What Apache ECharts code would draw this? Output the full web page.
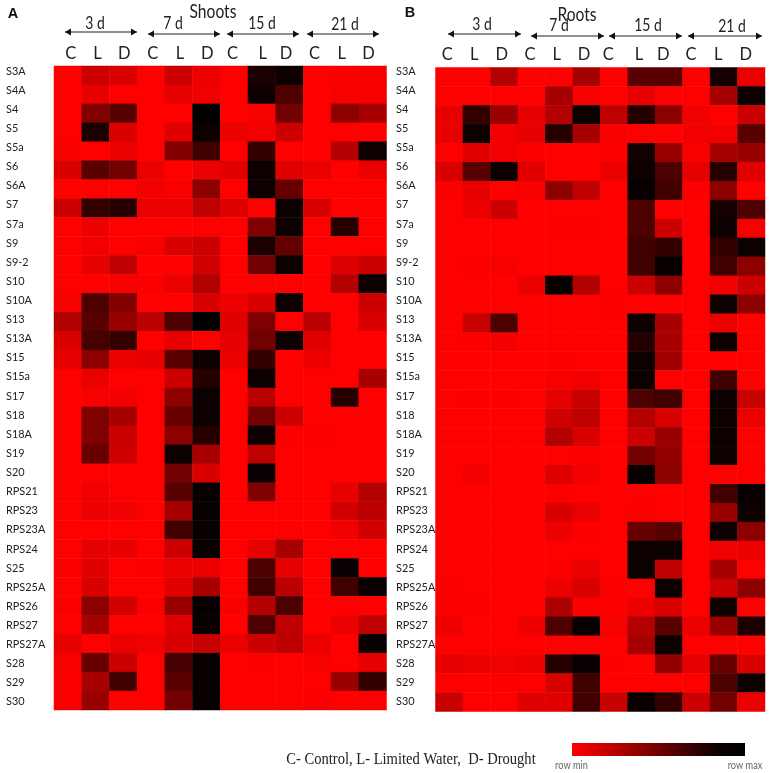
<!DOCTYPE html>
<html>
<head>
<meta charset="utf-8">
<style>html,body{margin:0;padding:0;background:#fff}#chart{width:773px;height:773px}</style>
<script src="https://cdn.jsdelivr.net/npm/echarts@6/dist/echarts.min.js"></script>
</head>
<body>
<div id="chart"></div>
<script>
const genes = ['S3A','S4A','S4','S5','S5a','S6','S6A','S7','S7a','S9','S9-2','S10','S10A','S13','S13A','S15','S15a','S17','S18','S18A','S19','S20','RPS21','RPS23','RPS23A','RPS24','S25','RPS25A','RPS26','RPS27','RPS27A','S28','S29','S30'];
const treatments = ['C','L','D','C','L','D','C','L','D','C','L','D'];
const days = ['3 d','7 d','15 d','21 d'];

// row-scaled expression, 0 = row min (red), 1 = row max (black)
const shoots = [
[0,.2,.15,0,.2,.07,0,.9,.95,0,.02,.03],
[0,.1,0,0,.1,.06,0,.95,.7,0,.03,.03],
[0,.5,.65,0,0,1,0,.03,.55,0,.45,.35],
[0,.9,.15,0,.12,.95,.08,.05,.2,0,0,0],
[.03,0,.08,0,.5,.75,0,.8,0,0,.3,.95],
[.15,.65,.55,.08,0,.07,.12,.95,.12,.08,0,.08],
[0,0,0,.05,.03,.45,0,.95,.6,0,0,0],
[.2,.8,.85,.08,.08,.25,.12,0,.95,.15,0,0],
[0,.07,0,0,0,0,0,.5,.95,0,.85,0],
[0,.05,0,.03,.15,.2,0,.9,.6,0,0,0],
[0,.1,.25,0,0,.18,0,.55,.95,0,.13,.2],
[0,0,.03,.02,.08,.3,0,0,0,0,.3,.95],
[.03,.7,.5,0,0,.15,.07,.15,.95,0,0,.2],
[.3,.65,.4,.27,.7,1,.12,.5,0,.27,0,.15],
[.15,.72,.8,0,.1,0,.1,.55,.95,.12,0,0],
[.1,.45,.08,.1,.65,.95,.08,.8,0,.07,0,0],
[0,.08,0,0,.2,.85,0,.95,0,0,0,.35],
[0,.03,.05,0,.45,.95,0,.27,0,0,.85,0],
[0,.5,.35,0,.6,.95,0,.55,.2,0,0,0],
[0,.5,.2,0,.45,.85,0,.95,.02,.02,0,0],
[0,.6,.2,0,.95,.35,0,.25,0,0,0,0],
[0,0,0,0,.55,.15,0,.97,0,0,0,0],
[0,.06,0,0,.65,.97,0,.5,0,0,.1,.3],
[0,.07,.06,0,.35,.97,0,0,0,0,.18,.27],
[0,0,0,0,.75,.97,0,0,0,0,.05,.18],
[0,.1,.1,0,.2,.97,0,.1,.35,0,0,0],
[.02,.12,0,.02,.08,.07,0,.7,.1,0,.97,0],
[0,.15,0,0,.12,.35,0,.75,.27,0,.75,.97],
[.02,.45,.17,.02,.4,.97,.03,.3,.7,0,0,0],
[0,.35,0,0,.13,.97,0,.7,.25,0,.08,.25],
[.1,0,.08,.06,.15,.22,.08,.2,.27,.08,0,.97],
[.03,.6,.2,0,.72,.97,0,.02,0,.03,0,.1],
[.02,.35,.75,0,.65,.97,0,0,0,0,.4,.8],
[.02,.4,0,0,.55,.97,0,0,0,.02,0,0]
];
const roots = [
[0,0,.3,0,0,.35,0,.65,.65,0,.92,.08],
[0,0,0,0,.35,.03,0,.1,0,0,.35,.95],
[.1,.8,.4,.1,.3,.95,.25,.85,.45,.06,0,.2],
[.1,.95,.05,.1,.85,.35,.03,0,0,.05,.05,.65],
[0,.12,.05,.02,0,0,.02,.92,.4,.03,.35,.4],
[.15,.65,.95,.12,0,0,.08,.95,.7,.1,.85,.12],
[.02,.1,0,.03,.45,.25,0,.97,.75,.02,.45,0],
[0,.08,.2,0,0,0,0,.7,0,0,.92,.7],
[0,0,0,0,.01,.01,0,.7,.2,0,.95,.03],
[0,0,0,0,0,0,0,.75,.8,0,.8,.95],
[0,.01,.03,0,0,0,0,.75,.97,0,.75,.45],
[0,0,0,.08,.97,.3,0,.2,.45,0,.05,.2],
[0,0,0,0,0,0,.01,0,0,0,.95,.45],
[0,.22,.7,0,0,0,0,.95,.35,0,.08,0],
[0,.01,.04,0,0,0,0,.85,.35,0,.95,0],
[0,0,0,0,.01,0,0,.95,.37,0,0,0],
[0,0,0,0,.03,.05,0,.95,0,0,.75,0],
[0,.01,.01,0,.1,.22,0,.7,.75,0,.95,.22],
[0,0,0,0,.18,.25,0,.3,.15,0,.95,.08],
[0,0,0,0,.3,.15,0,.2,.4,0,.95,0],
[0,0,0,0,0,.02,0,.55,.42,0,.95,0],
[0,.05,0,0,.13,.04,0,.97,.45,0,0,0],
[0,0,0,0,.01,0,0,0,0,0,.75,.97],
[0,0,0,0,.15,.08,0,.01,0,0,.4,.95],
[0,0,0,0,.07,.01,0,.6,.65,0,.95,.45],
[0,0,0,0,0,0,0,.95,.95,0,.06,.07],
[0,0,0,0,.01,.08,0,.95,.25,0,.35,0],
[.01,0,0,0,.07,.15,.02,0,.95,0,.2,.45],
[.01,.01,0,0,.32,.01,.01,.08,.15,0,.95,0],
[.07,0,0,.07,.7,.97,.03,.3,.65,.08,.4,.9],
[0,0,0,0,0,0,0,.35,.95,0,0,0],
[.1,.08,.06,.08,.85,.97,.02,0,.42,.1,.6,.15],
[0,0,.01,0,.15,.75,0,0,0,0,.7,.95],
[.22,0,0,.12,.12,.75,.22,.97,.8,.2,.55,.07]
];

const FONT = 'Lato';
const toCells = rows => rows.flatMap((row, r) => row.map((v, c) => [c, r, v]));

// horizontal nudges of the C/L/D header labels away from the cell centres
const headerNudgeA = [2.8, 1.8, 1.1, 1.8, 1.4, 1, -1.7, 1, -3.4, -2.7, -3.1, -4.2];
const headerNudgeB = [-1.9, -2.4, -2.4, -1.6, -2.3, -2.5, -5.7, -2.4, -5.5, -5.3, -5.5, -5.5];
const nudgePadding = s => s >= 0 ? [0, 0, 0, 2 * s] : [0, -2 * s, 0, 0];

const heatAxes = (i, nudges) => ({
  xAxis: {
    type: 'category', gridIndex: i, position: 'top',
    data: treatments.map((t, k) => ({value: t + k, textStyle: {padding: nudgePadding(nudges[k])}})),
    axisLine: {show: false}, axisTick: {show: false}, splitLine: {show: false},
    axisLabel: {interval: 0, margin: 4, fontFamily: FONT, fontSize: 16.5, color: '#222', formatter: v => v[0]}
  },
  yAxis: {
    type: 'category', gridIndex: i, inverse: true, data: genes,
    axisLine: {show: false}, axisTick: {show: false}, axisLabel: {show: false}, splitLine: {show: false}
  }
});
// row labels sit on their own slightly wider-pitched band, as they do in the figure
const labelAxes = (i, margin) => ({
  xAxis: {type: 'value', gridIndex: i, show: false},
  yAxis: {
    type: 'category', gridIndex: i, inverse: true, data: genes,
    axisLine: {show: false}, axisTick: {show: false}, splitLine: {show: false},
    axisLabel: {interval: 0, align: 'left', margin, fontFamily: FONT, fontSize: 10.9, color: '#222'}
  }
});
const A = heatAxes(0, headerNudgeA), B = heatAxes(1, headerNudgeB);
const LA = labelAxes(2, 48), LB = labelAxes(3, 39.5);

const heat = (i, rows, name) => ({
  type: 'heatmap', name, xAxisIndex: i, yAxisIndex: i, data: toCells(rows), progressive: 0, animation: false,
  itemStyle: {borderWidth: 0}, emphasis: {disabled: true}
});

const head = (x, y, dir) => ({
  type: 'polygon', shape: {points: [[x, y], [x - dir * 6, y - 3.5], [x - dir * 6, y + 3.5]]}, style: {fill: '#111'}
});
const arrowGroup = (x1, x2, y) => [
  {type: 'line', shape: {x1, y1: y, x2, y2: y}, style: {stroke: '#222', lineWidth: 1.2}},
  head(x1, y, -1), head(x2, y, 1)
];
const txt = (text, x, y, size, opts = {}, scaleX = 1) => ({
  type: 'text', x, y, scaleX,
  style: Object.assign({text, fontSize: size, fontFamily: FONT, fill: '#222', align: 'center', verticalAlign: 'middle'}, opts)
});

const dayLabelsA = [[95, 24], [173, 24], [262, 24], [345, 25]];
const dayLabelsB = [[482, 25], [559, 26], [648, 26], [732, 27]];
const arrowsA = [[65, 137, 32], [148, 220, 34], [227, 299, 34], [307, 379, 34]];
const arrowsB = [[448, 521, 34], [531, 604, 36], [609, 682, 36], [688, 762, 36]];

const graphicElements = [
  ...arrowsA.flatMap(a => arrowGroup(a[0], a[1], a[2])),
  ...arrowsB.flatMap(a => arrowGroup(a[0], a[1], a[2])),
  ...dayLabelsA.map((p, k) => txt(days[k], p[0], p[1], 17, {}, 0.82)),
  ...dayLabelsB.map((p, k) => txt(days[k], p[0], p[1], 17, {}, 0.82)),
  txt('Shoots', 213, 12, 20, {}, 0.78),
  txt('Roots', 577, 15, 20, {}, 0.78),
  txt('A', 13, 14, 14.5, {fontFamily: 'Liberation Sans', fontWeight: 'bold', fill: '#111'}),
  txt('B', 410, 13, 14.5, {fontFamily: 'Liberation Sans', fontWeight: 'bold', fill: '#111'}),
  txt('C- Control, L- Limited Water,  D- Drought', 411, 760, 16, {fontFamily: 'Liberation Serif', fill: '#222'}, 0.91),
  {type: 'rect', shape: {x: 572, y: 743, width: 173, height: 13},
   style: {fill: new echarts.graphic.LinearGradient(0, 0, 1, 0, [{offset: 0, color: '#ff0000'}, {offset: 0.85, color: '#0a0000'}, {offset: 1, color: '#000000'}])}},
  txt('row min', 571.5, 765, 11.5, {fill: '#666'}, 0.8),
  txt('row max', 745, 765, 11.5, {fill: '#666'}, 0.8)
];

const chart = echarts.init(document.getElementById('chart'), null, {renderer: 'canvas'});
chart.setOption({
  animation: false,
  backgroundColor: '#fff',
  grid: [
    {left: 54, top: 66, width: 332.5, height: 644},
    {left: 435.5, top: 67.5, width: 329.5, height: 644},
    {left: 54, top: 61.5, width: 332.5, height: 650},
    {left: 435.5, top: 61.5, width: 329.5, height: 650}
  ],
  xAxis: [A.xAxis, B.xAxis, LA.xAxis, LB.xAxis],
  yAxis: [A.yAxis, B.yAxis, LA.yAxis, LB.yAxis],
  visualMap: {
    type: 'continuous', min: 0, max: 1, show: false,
    inRange: {color: ['#ff0000', '#000000']}, seriesIndex: [0, 1]
  },
  series: [heat(0, shoots, 'Shoots'), heat(1, roots, 'Roots')],
  graphic: {elements: graphicElements}
});
</script>
</body>
</html>
